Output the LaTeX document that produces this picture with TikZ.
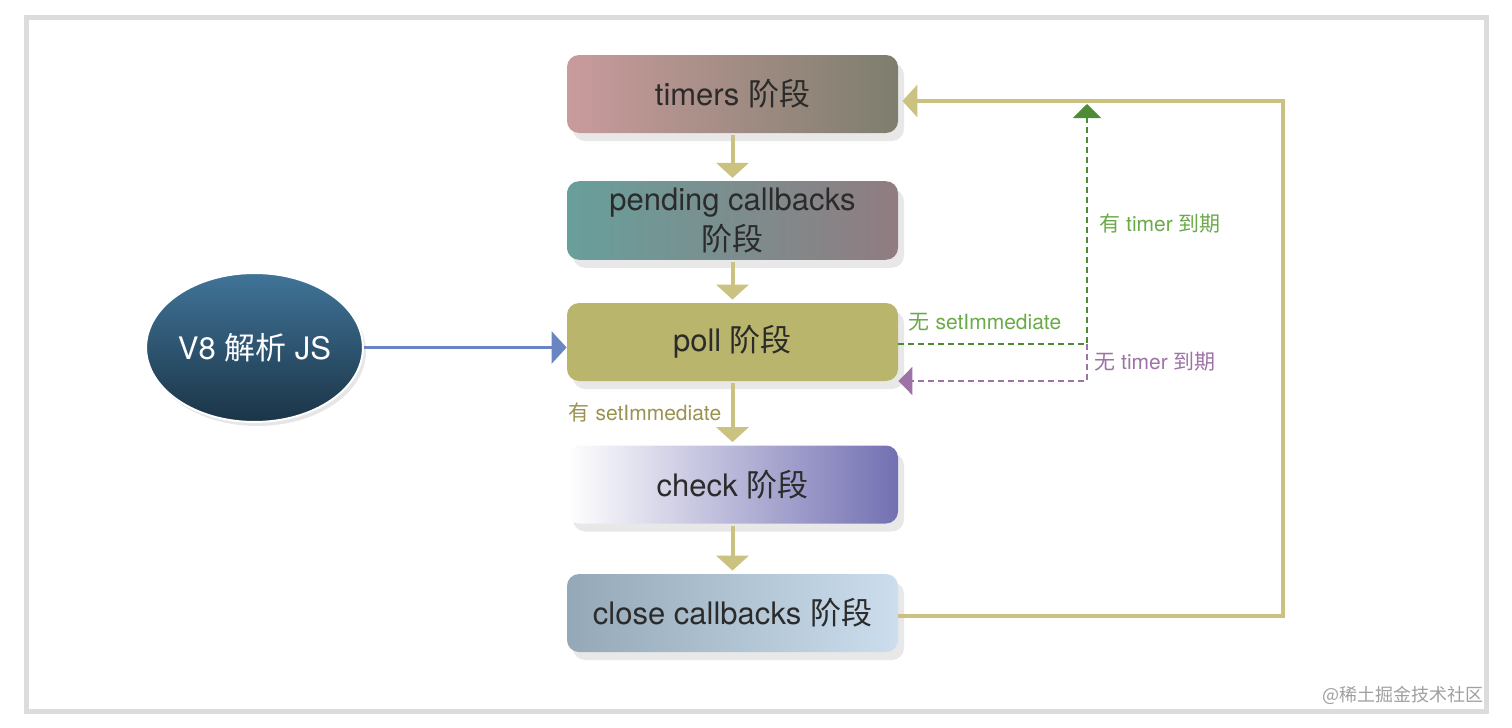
\documentclass[tikz,border=0pt]{standalone}
\usepackage{fontspec}
\setmainfont{TeX Gyre Heros}
\newfontfamily\cjk{Noto Sans CJK SC}
\usepackage{tikz}
\usetikzlibrary{positioning}
\usetikzlibrary{arrows.meta}
\usetikzlibrary{shapes.geometric}
\usetikzlibrary{shadows}
\usepackage{xcolor}

\definecolor{framegray}{HTML}{DCDCDC}
\definecolor{textdark}{HTML}{2B2B2B}
\definecolor{flowline}{HTML}{CBC180}
\definecolor{v8blue}{HTML}{6A86C2}
\definecolor{expgreen}{HTML}{4D8C35}
\definecolor{explabel}{HTML}{6AAA48}
\definecolor{noexp}{HTML}{9D72A6}
\definecolor{immlabel}{HTML}{9A9250}

\tikzset{
	phase/.style={rounded corners=6pt, minimum width=165.5pt, minimum height=39pt,
		text=textdark, align=center, font=\fontsize{15.5}{17}\selectfont,
		drop shadow={shadow xshift=3pt, shadow yshift=-4pt, opacity=0.18}},
	flow/.style={-{Triangle[width=16pt,length=7.5pt]}, line width=2pt, flowline},
	dashflow/.style={-{Triangle[width=14pt,length=7pt]}, line width=1pt, dash pattern=on 3pt off 2pt},
	lbl/.style={font=\fontsize{10.5}{12}\selectfont}
}

\begin{document}
\begin{tikzpicture}[x=0.5pt,y=-0.5pt]
	\useasboundingbox (0,0) rectangle (1512,728);
	\draw [framegray, line width=2.5pt] (26.5,17) rectangle (1486.5,711);

	\node [phase, left color={rgb,255:red,201;green,155;blue,156}, middle color={rgb,255:red,196;green,163;blue,160}, right color={rgb,255:red,125;green,126;blue,109}] (timers) at (732.5,94) {timers {\cjk 阶段}};
	\node [phase, left color={rgb,255:red,104;green,159;blue,155}, middle color={rgb,255:red,122;green,150;blue,145}, right color={rgb,255:red,144;green,124;blue,129}] (pending) at (732.5,220.5) {pending callbacks\\[3pt]{\cjk 阶段}};
	\node [phase, fill={rgb,255:red,185;green,181;blue,109}] (poll) at (732.5,342) {poll {\cjk 阶段}};
	\node [phase, left color=white, middle color={rgb,255:red,188;green,188;blue,228}, right color={rgb,255:red,115;green,112;blue,178}] (check) at (732.5,484.5) {check {\cjk 阶段}};
	\node [phase, left color={rgb,255:red,148;green,168;blue,184}, right color={rgb,255:red,204;green,222;blue,238}] (close) at (732.5,613) {close callbacks {\cjk 阶段}};

	\node [ellipse, inner sep=0pt, minimum width=107.5pt, minimum height=74.5pt, draw=white, line width=1pt,
		top color={rgb,255:red,64;green,116;blue,152}, bottom color={rgb,255:red,27;green,52;blue,71},
		text=white, font=\fontsize{15.5}{17}\selectfont,
		drop shadow={shadow xshift=1.5pt, shadow yshift=-2pt, opacity=0.2}] (v8) at (254.5,347.5) {V8 {\cjk 解析} JS};

	\draw [-{Triangle[width=16pt,length=7.5pt]}, line width=1.5pt, v8blue] (v8) -- (poll.west |- v8);

	\draw [flow, shorten <=1pt, shorten >=1.5pt] (timers) -- (pending);
	\draw [flow, shorten <=1pt, shorten >=1.5pt] (pending) -- (poll);
	\draw [flow, shorten <=1pt, shorten >=1.5pt] (poll) -- (check);
	\draw [flow, shorten <=1pt, shorten >=1.5pt] (check) -- (close);

	\coordinate (looptop) at (1283,101);
	\coordinate (loopbot) at (1283,616);
	\draw [flow, shorten >=2pt] (close.east |- loopbot) -- (loopbot) -- (looptop) -- (timers.east |- looptop);

	\coordinate (split) at (1087,344);
	\coordinate (expired) at (1087,104);
	\coordinate (idle) at (1087,381);
	\draw [dashflow, expgreen] (poll.east |- split) -- (split) -- (expired);
	\draw [dashflow, noexp] (split) -- (idle) -- (poll.east |- idle);

	\node [lbl, explabel] (noimm) at (985,322) {{\cjk 无} setImmediate};
	\node [lbl, explabel] (hastimer) at (1160,224) {{\cjk 有} timer {\cjk 到期}};
	\node [lbl, noexp] (notimer) at (1155,362) {{\cjk 无} timer {\cjk 到期}};
	\node [lbl, immlabel] (hasimm) at (645,413) {{\cjk 有} setImmediate};

	\node [anchor=east, gray!75, font=\cjk\fontsize{9}{10}\selectfont] (mark) at (1491,695) {@稀土掘金技术社区};
\end{tikzpicture}
\end{document}
